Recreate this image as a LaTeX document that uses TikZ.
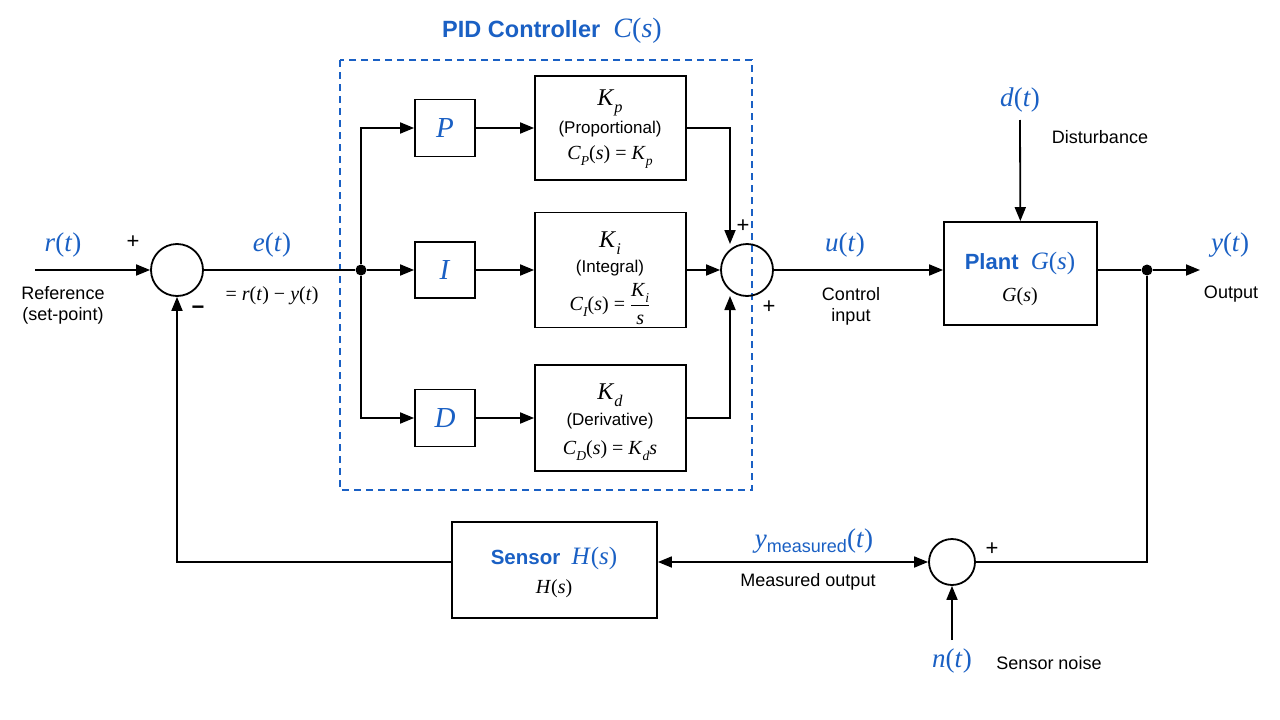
\documentclass[tikz,border=0pt]{standalone}
\usepackage{fontspec}
\setsansfont{Liberation Sans}
\newfontfamily\ms{Liberation Serif}
\usetikzlibrary{arrows.meta}
\definecolor{pidblue}{RGB}{26,96,196}
\newcommand\vi[1]{\textit{#1}}
\newcommand\sbi[1]{\raisebox{-0.3em}{\fontsize{0.68em}{1em}\selectfont\itshape #1}}
\tikzset{
  wire/.style={line width=1.8pt},
  arr/.style={wire,-{Triangle[length=14pt,width=11pt]}},
  darr/.style={wire,{Triangle[length=14pt,width=11pt]}-{Triangle[length=14pt,width=11pt]}},
  blk/.style={draw,line width=1.8pt,inner sep=0pt},
  sumc/.style={circle,draw,line width=1.8pt,inner sep=0pt,minimum size=#1},
  txt/.style={font=\sffamily\fontsize{18}{21}\selectfont,align=center,inner sep=0pt},
  ptxt/.style={font=\sffamily\fontsize{17}{20}\selectfont,inner sep=0pt},
  sig/.style={text=pidblue,font=\ms\fontsize{27}{30}\selectfont,inner sep=0pt},
  mth/.style={font=\ms\fontsize{20}{23}\selectfont,inner sep=0pt},
  big/.style={font=\ms\fontsize{24}{27}\selectfont,inner sep=0pt},
  ttl/.style={text=pidblue,font=\sffamily\bfseries\fontsize{22}{25}\selectfont,inner sep=0pt},
  sgn/.style={font=\sffamily\fontsize{22}{24}\selectfont,inner sep=0pt},
  jdot/.style={circle,fill=black,inner sep=0pt,minimum size=11pt},
}
\begin{document}
\begin{tikzpicture}[x=1pt,y=-1pt]
\useasboundingbox[fill=white] (0,0) rectangle (1280,720);

% PID dashed frame
\draw[pidblue,line width=1.4pt,dash pattern=on 7pt off 5pt] (340,60) rectangle (752,490);
\node[ttl,font=\sffamily\bfseries\fontsize{23.5}{26}\selectfont] (pidt) at (552,31) {PID Controller\ \ {\ms\mdseries\fontsize{28}{30}\selectfont\vi{C}(\vi{s})}};

% first summing junction
\node[sumc=52pt] (s1) at (177,270) {};
\coordinate (rin) at (35,270);
\node[sig] (rt) at (63,245) {\vi{r}(\vi{t})};
\node[txt] (refl) at (63,305) {Reference\\(set-point)};
\node[sgn] (s1p) at (133,242) {+};
\node[sgn] (s1m) at (198,310) {\textbf{−}};
\node[sig] (et) at (272,245) {\vi{e}(\vi{t})};
\node[mth] (eeq) at (272,296) {= \vi{r}(\vi{t}) − \vi{y}(\vi{t})};

% branch point
\node[jdot] (bp) at (361,270) {};

% P I D boxes
\node[blk,minimum width=60pt,minimum height=57pt] (P) at (445,128) {};
\node[blk,minimum width=60pt,minimum height=56pt] (I) at (445,270) {};
\node[blk,minimum width=60pt,minimum height=57pt] (D) at (445,418) {};
\node[sig,font=\ms\fontsize{29}{32}\selectfont] (Pl) at (P) {\vi{P}};
\node[sig,font=\ms\fontsize{29}{32}\selectfont] (Il) at (I) {\vi{I}};
\node[sig,font=\ms\fontsize{29}{32}\selectfont] (Dl) at (D) {\vi{D}};

% gain boxes
\node[blk,minimum width=151pt,minimum height=104pt] (Kp) at (610.5,128) {};
\node[blk,minimum width=151pt,minimum height=115pt] (Ki) at (610.5,270) {};
\node[blk,minimum width=151pt,minimum height=106pt] (Kd) at (610.5,418) {};
\node[big] (kp1) at (610,103) {\vi{K}\sbi{p}};
\node[ptxt] (kp2) at (610,129) {(Proportional)};
\node[mth] (kp3) at (610,157) {\vi{C}\sbi{P}(\vi{s}) = \vi{K}\sbi{p}};
\node[big] (ki1) at (610,243) {\vi{K}\sbi{i}};
\node[ptxt] (ki2) at (610,268) {(Integral)};
\node[mth] (ki3) at (610,304) {\vi{C}\sbi{I}(\vi{s}) = $\displaystyle\frac{\mbox{\vi{K}\sbi{i}}}{\mbox{\vi{s}}}$};
\node[big] (kd1) at (610,395) {\vi{K}\sbi{d}};
\node[ptxt] (kd2) at (610,421) {(Derivative)};
\node[mth] (kd3) at (610,451) {\vi{C}\sbi{D}(\vi{s}) = \vi{K}\sbi{d}\vi{s}};

% second summing junction
\node[sumc=52pt] (s2) at (747,270) {};
\node[sgn] (s2a) at (743,226) {+};
\node[sgn] (s2b) at (769,307) {+};
\coordinate (s2top) at (730,244);
\coordinate (s2bot) at (730,296);

% plant
\node[blk,minimum width=153pt,minimum height=103pt] (G) at (1020.5,273.5) {};
\node[ttl] (Gt) at (1020,263) {Plant\ \ {\ms\mdseries\fontsize{25}{28}\selectfont\vi{G}(\vi{s})}};
\node[mth] (Gs) at (1020,297) {\vi{G}(\vi{s})};
\node[sig] (ut) at (845,245) {\vi{u}(\vi{t})};
\node[txt] (uin) at (851,306) {Control\\input};
\node[sig] (dt) at (1020,100) {\vi{d}(\vi{t})};
\coordinate (din) at (1020,120);
\node[txt] (dist) at (1100,137) {Disturbance};

% output
\node[jdot] (op) at (1147,270) {};
\coordinate (yout) at (1200,270);
\node[sig] (yt) at (1230,245) {\vi{y}(\vi{t})};
\node[txt] (outl) at (1231,294) {Output};

% sensor loop
\node[sumc=46pt] (s3) at (952,562) {};
\node[sgn] (s3p) at (992,549) {+};
\node[sig] (nt) at (952,661) {\vi{n}(\vi{t})};
\coordinate (nin) at (952,640);
\node[txt] (nl) at (1049,663) {Sensor noise};
\node[blk,minimum width=205pt,minimum height=96pt] (H) at (554.5,570) {};
\node[ttl,font=\sffamily\bfseries\fontsize{20.5}{24}\selectfont] (Ht) at (554,558) {Sensor\ \ {\ms\mdseries\fontsize{25}{28}\selectfont\vi{H}(\vi{s})}};
\node[mth] (Hs) at (554,589) {\vi{H}(\vi{s})};
\node[sig] (ym) at (814,541) {\vi{y}\raisebox{-5pt}{\sffamily\fontsize{18}{20}\selectfont measured}(\vi{t})};
\node[txt] (ymo) at (808,582) {Measured output};

% connectors
\draw[arr] (rin) -- (s1);
\draw[wire] (s1) -- (bp);
\draw[arr] (bp) -- (I);
\draw[arr] (bp) |- (P);
\draw[arr] (bp) |- (D);
\draw[arr] (P) -- (Kp);
\draw[arr] (I) -- (Ki);
\draw[arr] (D) -- (Kd);
\draw[arr] (Kp.east) -| (s2top);
\draw[arr] (Ki) -- (s2);
\draw[arr] (Kd.east) -| (s2bot);
\draw[arr] (s2.east) -- (s2.east -| G.west);
\draw[arr] (din) -- (G);
\draw[wire] (op -| G.east) -- (op);
\draw[arr] (op) -- (yout);
\draw[wire] (op) |- (s3);
\draw[darr] (s3.west -| H.east) -- (s3.west);
\draw[arr] (nin) -- (s3);
\draw[arr] (H.west |- s3) -| (s1);
\end{tikzpicture}
\end{document}
